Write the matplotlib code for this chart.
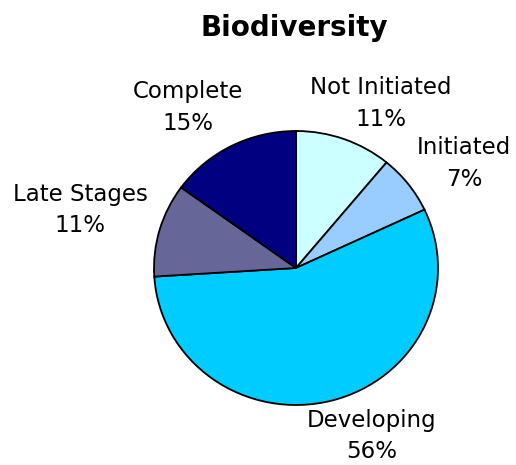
import matplotlib
matplotlib.use('Agg')
import matplotlib.pyplot as plt

# ---- data ----
categories = ['Not Initiated', 'Initiated', 'Developing', 'Late Stages', 'Complete']
shares = [11, 7, 56, 11, 15]
colors = ['#CCFFFF', '#99CCFF', '#00CCFF', '#666699', '#000080']

# label centres in pixel coords of the 516x465 picture
label_px = [(381, 104), (464, 164), (372, 436), (80, 210), (188, 108)]

W, H = 516, 465
cx, cy = 296, 268      # pie centre (pixels)
rx, ry = 142, 137      # horizontal / vertical radius (pixels)

plt.rcParams['font.family'] = ['DejaVu Sans']

fig = plt.figure(figsize=(W / 100, H / 100), dpi=100)
ax = fig.add_axes([0, 0, 1, 1])

ax.pie(shares, colors=colors, startangle=90, counterclock=False,
       wedgeprops=dict(edgecolor='black', linewidth=1.3))

ax.set_aspect('auto')
ax.set_xlim(-cx / rx, (W - cx) / rx)
ax.set_ylim(-(H - cy) / ry, cy / ry)
ax.axis('off')

def px(x, y):
  return (x - cx) / rx, (cy - y) / ry

for name, val, (lx, ly) in zip(categories, shares, label_px):
  tx, ty = px(lx, ly)
  ax.text(tx, ty, '%s\n%d%%' % (name, val), ha='center', va='center',
          fontsize=16.5, linespacing=1.5)

tx, ty = px(294, 28)
ax.text(tx, ty, 'Biodiversity', ha='center', va='center',
        fontsize=20, fontweight='bold')

fig.savefig('out.png', dpi=100)
